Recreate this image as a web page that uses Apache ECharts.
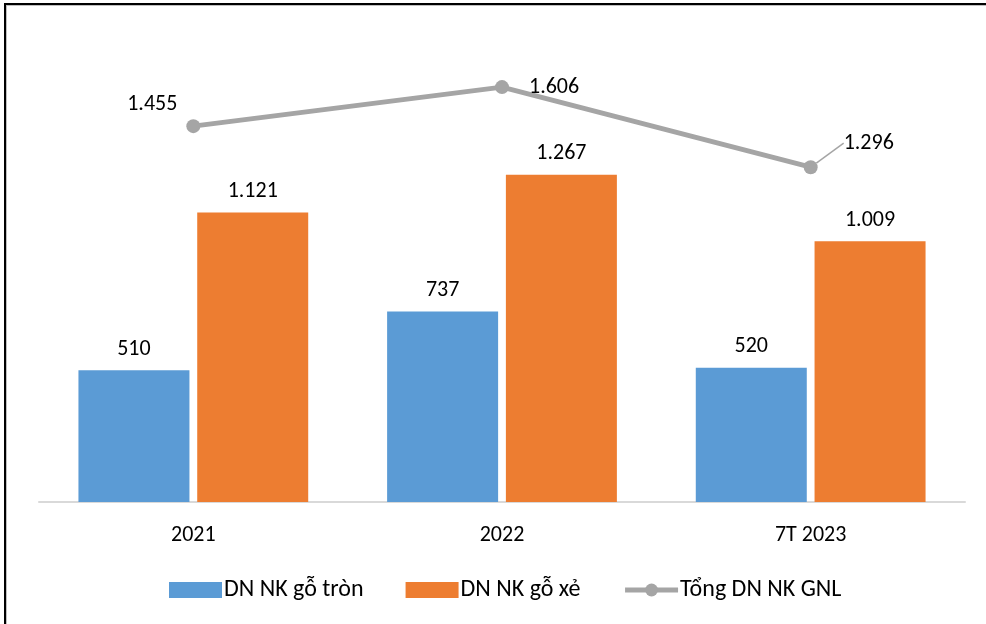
<!DOCTYPE html>
<html>
<head>
<meta charset="utf-8">
<script src="https://cdn.jsdelivr.net/npm/echarts@6/dist/echarts.min.js"></script>
<style>
  html, body { margin: 0; padding: 0; background: #fff; }
  #wrap { position: relative; width: 986px; height: 624px; overflow: hidden; }
  #chart { position: absolute; left: 0; top: 0; width: 986px; height: 624px; }
  #frame {
    position: absolute; left: 4px; top: 3px; width: 2000px; height: 2000px;
    border-left: 2px solid #000; border-top: 2px solid #000;
    box-shadow: inset 1px 1px 0 #bfbfbf; pointer-events: none;
  }
</style>
</head>
<body>
<div id="wrap">
  <div id="chart"></div>
  <div id="frame"></div>
</div>
<script>
const categories = ['2021', '2022', '7T 2023'];
const roundWood = [510, 737, 520];
const sawnWood = [1121, 1267, 1009];
const totalImporters = [1455, 1606, 1296];

const font = 'Calibri, Carlito, "Open Sans", sans-serif';
// số kiểu VN: 1.121
const fmt = (v) => v.toLocaleString('de-DE');

const chart = echarts.init(document.getElementById('chart'));
chart.setOption({
  animation: false,
  textStyle: { fontFamily: font },
  grid: { left: 39, right: 21, top: 37, bottom: 122 },
  legend: {
    top: 573,
    left: 164,
    itemWidth: 53,
    itemHeight: 16,
    itemGap: 42,
    textStyle: { fontSize: 24, color: '#000', fontFamily: font, padding: [0, 0, 0, -3] },
    data: [
      { name: 'DN NK gỗ tròn', icon: 'rect' },
      { name: 'DN NK gỗ xẻ', icon: 'rect' },
      { name: 'Tổng DN NK GNL', lineStyle: { width: 5 } }
    ]
  },
  xAxis: {
    type: 'category',
    data: categories,
    axisLine: { lineStyle: { color: '#d9d9d9', width: 2 } },
    axisTick: { show: false },
    axisLabel: { fontSize: 22, color: '#000', margin: 22, fontFamily: font }
  },
  yAxis: {
    type: 'value',
    min: 0,
    max: 1800,
    show: false,
    splitLine: { show: false }
  },
  series: [
    {
      name: 'DN NK gỗ tròn',
      type: 'bar',
      data: roundWood,
      barWidth: 111,
      barGap: '7%',
      itemStyle: { color: '#5b9bd5' },
      label: { show: true, position: 'top', distance: 10, fontSize: 22, color: '#000', formatter: (p) => fmt(p.value) }
    },
    {
      name: 'DN NK gỗ xẻ',
      type: 'bar',
      data: sawnWood,
      barWidth: 111,
      itemStyle: { color: '#ed7d31' },
      label: { show: true, position: 'top', distance: 10, fontSize: 22, color: '#000', formatter: (p) => fmt(p.value) }
    },
    {
      name: 'Tổng DN NK GNL',
      type: 'line',
      data: [
        { value: totalImporters[0], label: { position: 'left', distance: 14 }, labelLine: { show: false } },
        { value: totalImporters[1], label: { position: 'right', distance: 20 }, labelLine: { show: false } },
        { value: totalImporters[2], label: { position: 'right', distance: 20 }, labelLine: { show: true } }
      ],
      symbol: 'circle',
      symbolSize: 14,
      lineStyle: { color: '#a5a5a5', width: 5 },
      itemStyle: { color: '#a5a5a5' },
      label: { show: true, fontSize: 22, color: '#000', formatter: (p) => fmt(p.value) },
      labelLayout: (params) => {
        if (params.dataIndex === 0) return { dx: 5, dy: -22 };
        if (params.dataIndex === 2) return { dx: 6, dy: -24 };
        return {};
      },
      labelLine: { lineStyle: { color: '#a5a5a5', width: 1.5 } }
    }
  ]
});
</script>
</body>
</html>
